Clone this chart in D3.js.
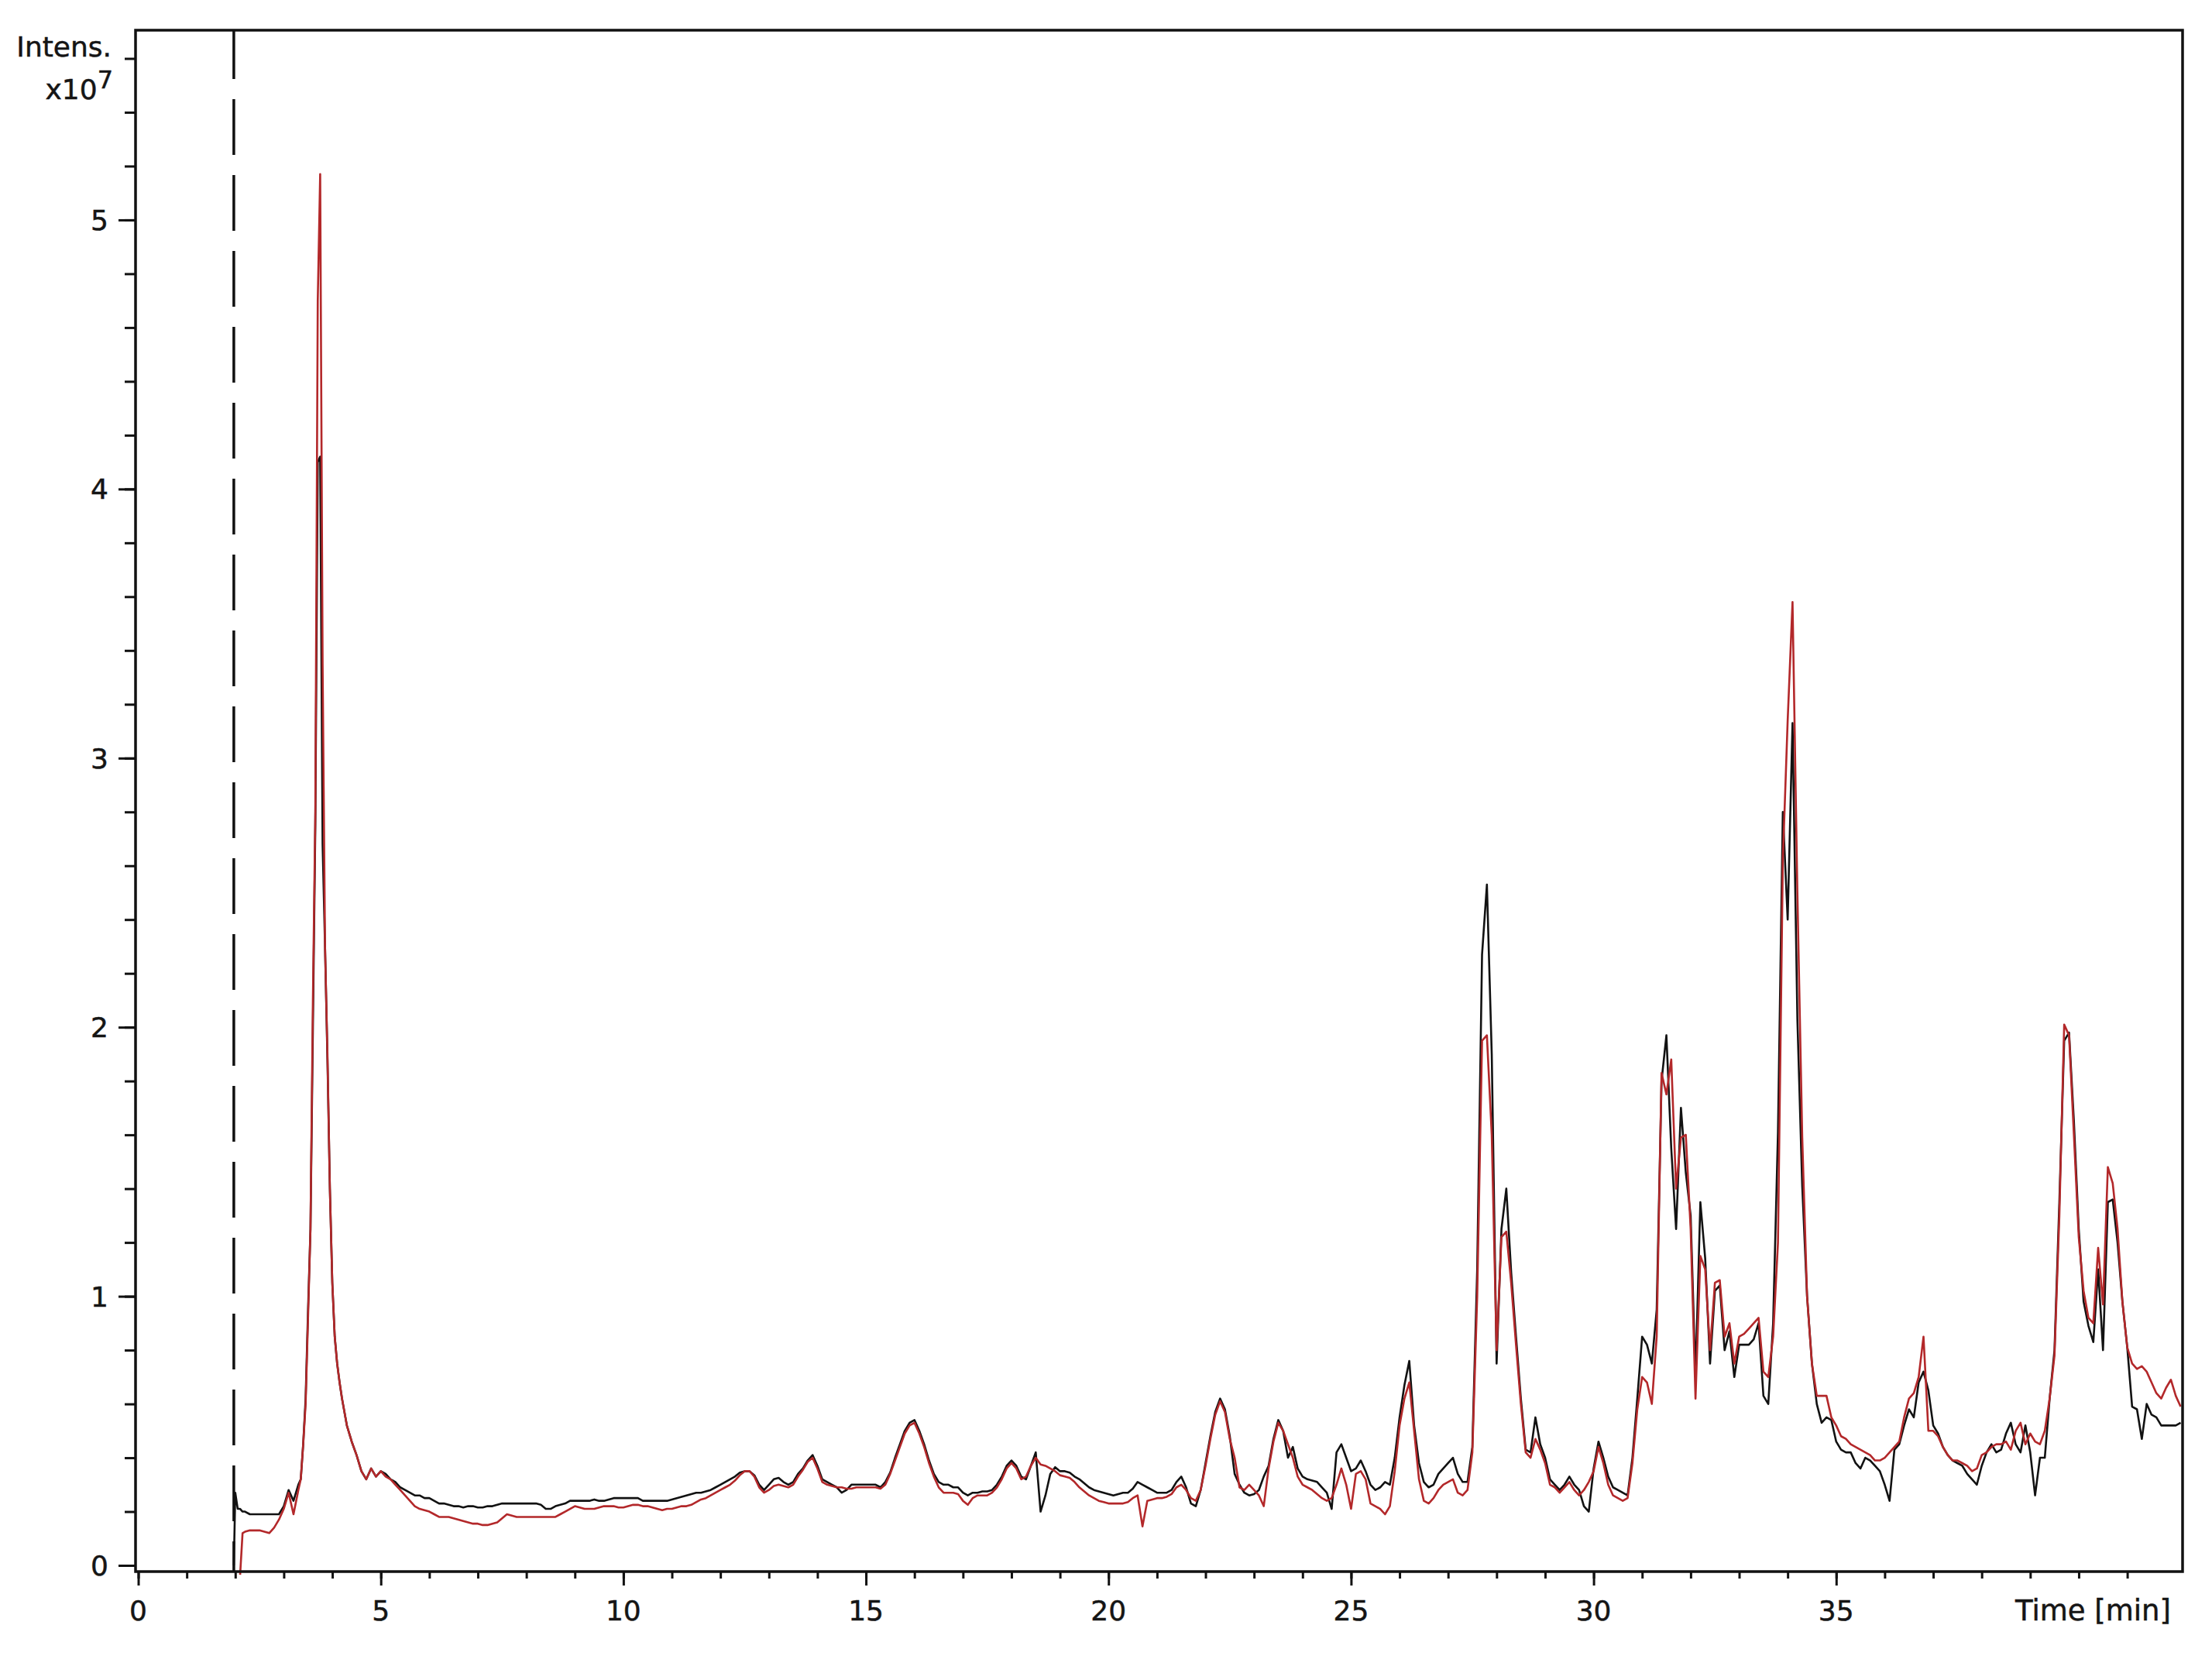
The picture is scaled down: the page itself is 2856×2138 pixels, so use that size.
<!DOCTYPE html>
<html>
<head>
<meta charset="utf-8">
<script src="https://cdn.jsdelivr.net/npm/d3@7"></script>
<style>
  html, body { margin: 0; padding: 0; background: #ffffff; }
  svg { display: block; }
  text { font-family: "DejaVu Sans", Verdana, sans-serif; fill: #151515; stroke: #151515; stroke-width: 0.5px; }
</style>
</head>
<body>
<svg id="chart" width="2856" height="2138"></svg>
<script>
// ---------------- DATA (intensity in units of 1e7) ----------------
const time = [
  1.97, 2.0, 2.05, 2.1, 2.15, 2.2,
  2.3, 2.4, 2.5, 2.6, 2.7, 2.8, 2.9, 3.0, 3.1, 3.2, 3.3,
  3.35, 3.4, 3.45, 3.5, 3.55, 3.6, 3.65, 3.7, 3.75, 3.8, 3.85, 3.9, 3.95, 4.0, 4.05, 4.1, 4.15, 4.2,
  4.3, 4.4, 4.5, 4.6, 4.7, 4.8, 4.9,
  5.0, 5.1, 5.2, 5.3, 5.4, 5.5, 5.6, 5.7, 5.8, 5.9,
  6.0, 6.1, 6.2, 6.3, 6.4, 6.5, 6.6, 6.7, 6.8, 6.9,
  7.0, 7.1, 7.2, 7.3, 7.4, 7.5, 7.6, 7.7, 7.8, 7.9,
  8.0, 8.1, 8.2, 8.3, 8.4, 8.5, 8.6, 8.7, 8.8, 8.9,
  9.0, 9.1, 9.2, 9.3, 9.4, 9.5, 9.6, 9.7, 9.8, 9.9,
  10.0, 10.1, 10.2, 10.3, 10.4, 10.5, 10.6, 10.7, 10.8, 10.9,
  11.0, 11.1, 11.2, 11.3, 11.4, 11.5, 11.6, 11.7, 11.8, 11.9,
  12.0, 12.1, 12.2, 12.3, 12.4, 12.5, 12.6, 12.7, 12.8, 12.9,
  13.0, 13.1, 13.2, 13.3, 13.4, 13.5, 13.6, 13.7, 13.8, 13.9,
  14.0, 14.1, 14.2, 14.3, 14.4, 14.5, 14.6, 14.7, 14.8, 14.9,
  15.0, 15.1, 15.2, 15.3, 15.4, 15.5, 15.6, 15.7, 15.8, 15.9,
  16.0, 16.1, 16.2, 16.3, 16.4, 16.5, 16.6, 16.7, 16.8, 16.9,
  17.0, 17.1, 17.2, 17.3, 17.4, 17.5, 17.6, 17.7, 17.8, 17.9,
  18.0, 18.1, 18.2, 18.3, 18.4, 18.5, 18.6, 18.7, 18.8, 18.9,
  19.0, 19.1, 19.2, 19.3, 19.4, 19.5, 19.6, 19.7, 19.8, 19.9,
  20.0, 20.1, 20.2, 20.3, 20.4, 20.5, 20.6, 20.7, 20.8, 20.9,
  21.0, 21.1, 21.2, 21.3, 21.4, 21.5, 21.6, 21.7, 21.8, 21.9,
  22.0, 22.1, 22.2, 22.3, 22.4, 22.5, 22.6, 22.7, 22.8, 22.9,
  23.0, 23.1, 23.2, 23.3, 23.4, 23.5, 23.6, 23.7, 23.8, 23.9,
  24.0, 24.1, 24.2, 24.3, 24.4, 24.5, 24.6, 24.7, 24.8, 24.9,
  25.0, 25.1, 25.2, 25.3, 25.4, 25.5, 25.6, 25.7, 25.8, 25.9,
  26.0, 26.1, 26.2, 26.3, 26.4, 26.5, 26.6, 26.7, 26.8, 26.9,
  27.0, 27.1, 27.2, 27.3, 27.4, 27.5, 27.6, 27.7, 27.8, 27.9,
  28.0, 28.1, 28.2, 28.3, 28.4, 28.5, 28.6, 28.7, 28.8, 28.9,
  29.0, 29.1, 29.2, 29.3, 29.4, 29.5, 29.6, 29.7, 29.8, 29.9,
  30.0, 30.1, 30.2, 30.3, 30.4, 30.5, 30.6, 30.7, 30.8, 30.9,
  31.0, 31.1, 31.2, 31.3, 31.4, 31.5, 31.6, 31.7, 31.8, 31.9,
  32.0, 32.1, 32.2, 32.3, 32.4, 32.5, 32.6, 32.7, 32.8, 32.9,
  33.0, 33.1, 33.2, 33.3, 33.4, 33.5, 33.6, 33.7, 33.8, 33.9,
  34.0, 34.1, 34.2, 34.3, 34.4, 34.5, 34.6, 34.7, 34.8, 34.9,
  35.0, 35.1, 35.2, 35.3, 35.4, 35.5, 35.6, 35.7, 35.8, 35.9,
  36.0, 36.1, 36.2, 36.3, 36.4, 36.5, 36.6, 36.7, 36.8, 36.9,
  37.0, 37.1, 37.2, 37.3, 37.4, 37.5, 37.6, 37.7, 37.8, 37.9,
  38.0, 38.1, 38.2, 38.3, 38.4, 38.5, 38.6, 38.7, 38.8, 38.9,
  39.0, 39.1, 39.2, 39.3, 39.4, 39.5, 39.6, 39.7, 39.8, 39.9,
  40.0, 40.1, 40.2, 40.3, 40.4, 40.5, 40.6, 40.7, 40.8, 40.9,
  41.0, 41.1, 41.2, 41.3, 41.4, 41.5, 41.6, 41.7, 41.8, 41.9,
  42.0, 42.1
];

const blackTrace = [
  0.0, 0.27, 0.21, 0.21, 0.20, 0.20,
  0.19, 0.19, 0.19, 0.19, 0.19, 0.19, 0.19, 0.22, 0.28, 0.24, 0.30,
  0.32, 0.45, 0.62, 0.95, 1.25, 2.0, 2.75, 4.1, 4.12, 2.68, 2.3, 1.88, 1.4, 1.05, 0.85, 0.75, 0.68, 0.62,
  0.52, 0.46, 0.41, 0.35, 0.32, 0.36, 0.33,
  0.35, 0.34, 0.32, 0.31, 0.29, 0.28, 0.27, 0.26, 0.26, 0.25,
  0.25, 0.24, 0.23, 0.23, 0.225, 0.22, 0.22, 0.215, 0.22, 0.22,
  0.215, 0.215, 0.22, 0.22, 0.225, 0.23, 0.23, 0.23, 0.23, 0.23,
  0.23, 0.23, 0.23, 0.225, 0.21, 0.21, 0.22, 0.225, 0.23, 0.24,
  0.24, 0.24, 0.24, 0.24, 0.245, 0.24, 0.24, 0.245, 0.25, 0.25,
  0.25, 0.25, 0.25, 0.25, 0.24, 0.24, 0.24, 0.24, 0.24, 0.24,
  0.245, 0.25, 0.255, 0.26, 0.265, 0.27, 0.27, 0.275, 0.28, 0.29,
  0.30, 0.31, 0.32, 0.33, 0.345, 0.35, 0.35, 0.335, 0.30, 0.28,
  0.30, 0.32, 0.325, 0.31, 0.30, 0.31, 0.34, 0.36, 0.39, 0.41,
  0.37, 0.32, 0.31, 0.30, 0.29, 0.27, 0.28, 0.30, 0.30, 0.30,
  0.30, 0.30, 0.30, 0.29, 0.31, 0.345, 0.40, 0.45, 0.50, 0.53,
  0.54, 0.50, 0.45, 0.39, 0.34, 0.31, 0.30, 0.30, 0.29, 0.29,
  0.27, 0.26, 0.27, 0.27, 0.275, 0.275, 0.28, 0.30, 0.33, 0.37,
  0.39, 0.37, 0.33, 0.32, 0.37, 0.42, 0.20, 0.26, 0.34, 0.365,
  0.35, 0.35, 0.345, 0.33, 0.32, 0.305, 0.29, 0.28, 0.275, 0.27,
  0.265, 0.26, 0.265, 0.27, 0.27, 0.285, 0.31, 0.30, 0.29, 0.28,
  0.27, 0.27, 0.27, 0.28, 0.31, 0.33, 0.29, 0.23, 0.22, 0.28,
  0.38, 0.48, 0.57, 0.62, 0.58, 0.48, 0.34, 0.30, 0.27, 0.26,
  0.265, 0.28, 0.33, 0.37, 0.47, 0.54, 0.50, 0.40, 0.44, 0.36,
  0.33, 0.32, 0.315, 0.31, 0.29, 0.27, 0.21, 0.42, 0.45, 0.40,
  0.35, 0.36, 0.39, 0.35, 0.30, 0.28, 0.29, 0.31, 0.30, 0.40,
  0.55, 0.67, 0.76, 0.52, 0.38, 0.31, 0.29, 0.30, 0.34, 0.36,
  0.38, 0.40, 0.34, 0.31, 0.31, 0.44, 1.10, 2.27, 2.53, 1.90,
  0.75, 1.25, 1.40, 1.09, 0.85, 0.62, 0.43, 0.42, 0.55, 0.45,
  0.40, 0.32, 0.30, 0.28, 0.30, 0.33, 0.30, 0.28, 0.22, 0.20,
  0.36, 0.46, 0.40, 0.33, 0.29, 0.28, 0.27, 0.26, 0.40, 0.62,
  0.85, 0.82, 0.75, 0.95, 1.80, 1.97, 1.55, 1.25, 1.70, 1.46,
  1.30, 0.70, 1.35, 1.14, 0.75, 1.02, 1.04, 0.80, 0.87, 0.70,
  0.82, 0.82, 0.82, 0.84, 0.90, 0.63, 0.60, 0.90, 1.61, 2.80,
  2.40, 3.13, 2.03, 1.41, 1.00, 0.75, 0.60, 0.53, 0.55, 0.54,
  0.46, 0.43, 0.42, 0.42, 0.38, 0.36, 0.40, 0.39, 0.37, 0.35,
  0.30, 0.24, 0.43, 0.45, 0.52, 0.58, 0.55, 0.68, 0.72, 0.65,
  0.52, 0.49, 0.44, 0.41, 0.39, 0.38, 0.37, 0.34, 0.32, 0.30,
  0.37, 0.42, 0.45, 0.42, 0.43, 0.49, 0.53, 0.45, 0.42, 0.52,
  0.42, 0.26, 0.40, 0.40, 0.62, 0.80, 1.35, 1.95, 1.98, 1.65,
  1.25, 0.98, 0.89, 0.83, 1.10, 0.80, 1.35, 1.36, 1.20, 0.98,
  0.81, 0.59, 0.58, 0.47, 0.60, 0.56, 0.55, 0.52, 0.52, 0.52,
  0.52, 0.53
];

const redTrace = [
  null, null, null, -0.035, 0.12, 0.125,
  0.13, 0.13, 0.13, 0.125, 0.12, 0.14, 0.17, 0.21, 0.27, 0.19, 0.28,
  0.32, 0.45, 0.60, 0.92, 1.25, 2.1, 2.8, 4.7, 5.17, 3.35, 2.3, 1.9, 1.4, 1.05, 0.85, 0.75, 0.68, 0.62,
  0.52, 0.46, 0.41, 0.35, 0.32, 0.36, 0.33,
  0.35, 0.33, 0.32, 0.30, 0.28, 0.26, 0.24, 0.22, 0.21, 0.205,
  0.20, 0.19, 0.18, 0.18, 0.18, 0.175, 0.17, 0.165, 0.16, 0.155,
  0.155, 0.15, 0.15, 0.155, 0.16, 0.175, 0.19, 0.185, 0.18, 0.18,
  0.18, 0.18, 0.18, 0.18, 0.18, 0.18, 0.18, 0.19, 0.20, 0.21,
  0.22, 0.215, 0.21, 0.21, 0.21, 0.215, 0.22, 0.22, 0.22, 0.215,
  0.215, 0.22, 0.225, 0.225, 0.22, 0.22, 0.215, 0.21, 0.205, 0.21,
  0.21, 0.215, 0.22, 0.22, 0.225, 0.235, 0.245, 0.25, 0.26, 0.27,
  0.28, 0.29, 0.30, 0.315, 0.335, 0.35, 0.35, 0.33, 0.29, 0.27,
  0.28, 0.295, 0.30, 0.295, 0.29, 0.30, 0.33, 0.355, 0.385, 0.40,
  0.36, 0.31, 0.30, 0.295, 0.29, 0.29, 0.285, 0.285, 0.29, 0.29,
  0.29, 0.29, 0.29, 0.285, 0.30, 0.34, 0.39, 0.44, 0.49, 0.52,
  0.53, 0.49, 0.44, 0.38, 0.33, 0.29, 0.27, 0.27, 0.27, 0.265,
  0.24, 0.225, 0.25, 0.26, 0.26, 0.26, 0.27, 0.29, 0.32, 0.36,
  0.38, 0.36, 0.32, 0.33, 0.37, 0.40, 0.375, 0.37, 0.36, 0.35,
  0.335, 0.33, 0.325, 0.31, 0.29, 0.275, 0.26, 0.25, 0.24, 0.235,
  0.23, 0.23, 0.23, 0.23, 0.235, 0.25, 0.26, 0.145, 0.24, 0.245,
  0.25, 0.25, 0.255, 0.265, 0.29, 0.30, 0.28, 0.25, 0.24, 0.28,
  0.37, 0.47, 0.56, 0.61, 0.57, 0.47, 0.40, 0.29, 0.28, 0.30,
  0.28, 0.26, 0.22, 0.36, 0.46, 0.53, 0.50, 0.45, 0.40, 0.33,
  0.30, 0.29, 0.28, 0.265, 0.25, 0.24, 0.25, 0.30, 0.36, 0.30,
  0.21, 0.34, 0.35, 0.32, 0.23, 0.22, 0.21, 0.19, 0.22, 0.35,
  0.52, 0.62, 0.68, 0.50, 0.32, 0.24, 0.23, 0.25, 0.28, 0.30,
  0.31, 0.32, 0.27, 0.26, 0.28, 0.42, 1.00, 1.95, 1.97, 1.60,
  0.80, 1.22, 1.24, 1.05, 0.82, 0.60, 0.42, 0.40, 0.47, 0.43,
  0.38, 0.30, 0.29, 0.27, 0.29, 0.31, 0.28, 0.26, 0.28, 0.31,
  0.35, 0.44, 0.38, 0.30, 0.26, 0.25, 0.24, 0.25, 0.38, 0.58,
  0.70, 0.68, 0.60, 0.85, 1.83, 1.75, 1.88, 1.40, 1.59, 1.60,
  1.25, 0.62, 1.15, 1.10, 0.80, 1.05, 1.06, 0.85, 0.90, 0.75,
  0.85, 0.86, 0.88, 0.90, 0.92, 0.72, 0.70, 0.85, 1.20, 2.62,
  3.14, 3.58, 2.50, 1.59, 1.00, 0.75, 0.63, 0.63, 0.63, 0.55,
  0.52, 0.48, 0.47, 0.45, 0.44, 0.43, 0.42, 0.41, 0.39, 0.39,
  0.40, 0.42, 0.44, 0.46, 0.55, 0.62, 0.64, 0.70, 0.85, 0.50,
  0.50, 0.48, 0.44, 0.41, 0.39, 0.39, 0.38, 0.37, 0.35, 0.36,
  0.41, 0.42, 0.44, 0.45, 0.45, 0.46, 0.43, 0.50, 0.53, 0.45,
  0.49, 0.46, 0.45, 0.50, 0.62, 0.78, 1.30, 2.01, 1.97, 1.60,
  1.22, 1.02, 0.92, 0.90, 1.18, 0.97, 1.48, 1.42, 1.25, 0.98,
  0.81, 0.75, 0.73, 0.74, 0.72, 0.68, 0.64, 0.62, 0.66, 0.69,
  0.63, 0.59
];

const xMajorTicks = [0, 5, 10, 15, 20, 25, 30, 35];
const xMinorTicks = [0, 1, 2, 3, 4, 5, 6, 7, 8, 9, 10, 11, 12, 13, 14, 15, 16, 17, 18, 19, 20,
                     21, 22, 23, 24, 25, 26, 27, 28, 29, 30, 31, 32, 33, 34, 35, 36, 37, 38, 39, 40, 41];
const yMajorTicks = [0, 1, 2, 3, 4, 5];
const yMinorTicks = [0, 0.2, 0.4, 0.6, 0.8, 1, 1.2, 1.4, 1.6, 1.8, 2, 2.2, 2.4, 2.6, 2.8, 3,
                     3.2, 3.4, 3.6, 3.8, 4, 4.2, 4.4, 4.6, 4.8, 5, 5.2, 5.4, 5.6];
const markerTime = 1.97;          // dashed vertical marker
const yTitle = "Intens.";
const yExponentBase = "x10";
const yExponent = "7";
const xTitle = "Time [min]";

// ---------------- LAYOUT ----------------
const W = 2856, H = 2138;
const plotLeft = 175, plotRight = 2818, plotTop = 39, plotBottom = 2029;
const blackColor = "#121212";
const redColor = "#b3282a";

console.log("lengths", time.length, blackTrace.length, redTrace.length);

const svg = d3.select("#chart");
svg.append("rect").attr("width", W).attr("height", H).attr("fill", "#fff");

const x = d3.scaleLinear().domain([-0.056, 42.14]).range([plotLeft, plotRight]);
const y = d3.scaleLinear().domain([-0.023, 5.705]).range([plotBottom, plotTop]);

// clip
svg.append("clipPath").attr("id", "plotclip")
  .append("rect").attr("x", plotLeft).attr("y", plotTop)
  .attr("width", plotRight - plotLeft).attr("height", plotBottom - plotTop + 8);

// dashed marker
svg.append("line")
  .attr("x1", x(markerTime)).attr("x2", x(markerTime))
  .attr("y1", plotTop).attr("y2", plotBottom)
  .attr("stroke", "#111").attr("stroke-width", 3.5)
  .attr("stroke-dasharray", "72,26").attr("stroke-dashoffset", 9);

// traces
const blackData = time.map((t, i) => [t, blackTrace[i]]);
const redData = time.map((t, i) => [t, redTrace[i]]);
const line = d3.line()
  .defined(d => d[1] !== null && d[1] !== undefined)
  .x(d => x(d[0])).y(d => y(d[1]));

const plot = svg.append("g").attr("clip-path", "url(#plotclip)");
plot.append("path").datum(blackData)
  .attr("d", line).attr("fill", "none")
  .attr("stroke", blackColor).attr("stroke-width", 2.6).attr("stroke-linejoin", "round");
plot.append("path").datum(redData)
  .attr("d", line).attr("fill", "none")
  .attr("stroke", redColor).attr("stroke-width", 2.6).attr("stroke-linejoin", "round");

// axes ticks
function styleAxis(g) {
  g.select(".domain").remove();
  g.selectAll(".tick line").attr("stroke", "#111").attr("stroke-width", 3);
}
svg.append("g").attr("transform", `translate(0,${plotBottom})`)
  .call(d3.axisBottom(x).tickValues(xMinorTicks).tickSize(9).tickFormat(""))
  .call(styleAxis);
svg.append("g").attr("transform", `translate(0,${plotBottom})`)
  .call(d3.axisBottom(x).tickValues(xMajorTicks).tickSize(18).tickFormat(""))
  .call(styleAxis);
svg.append("g").attr("transform", `translate(${plotLeft},0)`)
  .call(d3.axisLeft(y).tickValues(yMinorTicks).tickSize(14).tickFormat(""))
  .call(styleAxis);
svg.append("g").attr("transform", `translate(${plotLeft},0)`)
  .call(d3.axisLeft(y).tickValues(yMajorTicks).tickSize(22).tickFormat(""))
  .call(styleAxis);

// frame
svg.append("rect")
  .attr("x", plotLeft).attr("y", plotTop)
  .attr("width", plotRight - plotLeft).attr("height", plotBottom - plotTop)
  .attr("fill", "none").attr("stroke", "#111").attr("stroke-width", 3.5);

// tick labels
svg.append("g").selectAll("text").data(xMajorTicks).join("text")
  .attr("x", d => x(d)).attr("y", 2092)
  .attr("text-anchor", "middle").attr("font-size", 36)
  .text(d => d);
svg.append("g").selectAll("text").data(yMajorTicks).join("text")
  .attr("x", 140).attr("y", d => y(d)).attr("dy", "0.36em")
  .attr("text-anchor", "end").attr("font-size", 36)
  .text(d => d);

// titles
svg.append("text").attr("x", 144).attr("y", 73)
  .attr("text-anchor", "end").attr("font-size", 36).text(yTitle);
const ex = svg.append("text").attr("x", 146).attr("y", 128)
  .attr("text-anchor", "end").attr("font-size", 36);
ex.append("tspan").text(yExponentBase);
ex.append("tspan").attr("dy", -14).attr("font-size", 32).text(yExponent);

svg.append("text").attr("x", 2803).attr("y", 2092)
  .attr("text-anchor", "end").attr("font-size", 37).text(xTitle);
</script>
</body>
</html>
